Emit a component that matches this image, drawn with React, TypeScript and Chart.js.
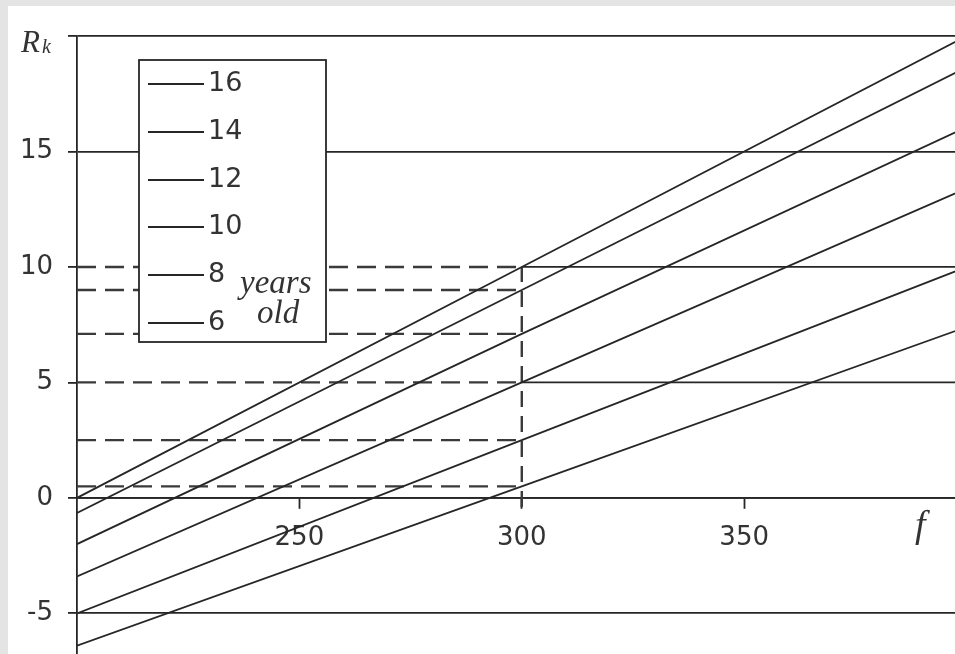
import React, { useEffect, useRef } from 'react';
import { Chart, registerables } from 'chart.js';

Chart.register(...registerables);

// ---- data ----
const ageLabels = ['16', '14', '12', '10', '8', '6'];
const fPoints = [200, 300, 400];
const rk16 = [0, 10, 20];
const rk14 = [-0.65, 9, 18.65];
const rk12 = [-2, 7.1, 16.05];
const rk10 = [-3.4, 5, 13.4];
const rk8 = [-5, 2.5, 10];
const rk6 = [-6.4, 0.5, 7.4];
const ageSeries = [rk16, rk14, rk12, rk10, rk8, rk6];

const readingF = 300;
const readingStartF = 200;
const readingEndF = 400;
const readings = [10, 9, 7.1, 5, 2.5, 0.5];
const readingDropBottom = -0.4;
const splitGridLevels = [10, 5];

const xTicks = [250, 300, 350];
const yTicks = [-5, 0, 5, 10, 15, 20];
const xMin = 200;
const xMax = 397.4;
const yMin = -6.76;
const yMax = 20;

const INK = '#262626';
const DASH = '#3a3a3a';
const TEXT = '#333333';

const overlayPlugin = {
  id: 'overlay',
  afterDraw(chart: any) {
    const ctx = chart.ctx as CanvasRenderingContext2D;
    const a = chart.chartArea;
    ctx.save();
    // legend box
    const bx = Math.round(a.left + 62);
    const by = Math.round(a.top + 24);
    const bw = 187;
    const bh = 282;
    ctx.fillStyle = '#ffffff';
    ctx.fillRect(bx, by, bw, bh);
    ctx.strokeStyle = INK;
    ctx.lineWidth = 1.8;
    ctx.strokeRect(bx, by, bw, bh);
    const ageSets = chart.data.datasets.filter((d: any) => d.isAge);
    ageSets.forEach((d: any, i: number) => {
      const ly = Math.round(by + 24 + i * 47.8);
      ctx.beginPath();
      ctx.moveTo(bx + 9, ly);
      ctx.lineTo(bx + 65, ly);
      ctx.strokeStyle = d.borderColor;
      ctx.lineWidth = 1.8;
      ctx.stroke();
      ctx.fillStyle = TEXT;
      ctx.font = '27px "DejaVu Sans"';
      ctx.textAlign = 'left';
      ctx.textBaseline = 'alphabetic';
      ctx.fillText(d.label, bx + 69, ly + 7);
    });
    ctx.font = 'italic 33px "Liberation Serif"';
    ctx.fillText('years', bx + 101, by + 233);
    ctx.fillText('old', bx + 118, by + 263);

    // axis titles
    ctx.font = 'italic 31px "Liberation Serif"';
    ctx.fillText('R', a.left - 56, a.top + 16);
    ctx.font = 'italic 20px "Liberation Serif"';
    ctx.fillText('k', a.left - 35, a.top + 17);
    const y0 = chart.scales.y.getPixelForValue(0);
    ctx.font = 'italic 38px "Liberation Serif"';
    ctx.fillText('f', a.left + 838, y0 + 39);
    ctx.restore();
  },
};

export default function App() {
  const ref = useRef<HTMLCanvasElement | null>(null);

  useEffect(() => {
    if (!ref.current) return;
    const datasets: any[] = [];
    ageSeries.forEach((vals, i) => {
      datasets.push({
        label: ageLabels[i],
        isAge: true,
        data: fPoints.map((f, j) => ({ x: f, y: vals[j] })),
        borderColor: INK,
        borderWidth: 1.8,
        pointRadius: 0,
        fill: false,
        tension: 0,
      });
    });
    readings.forEach((r) => {
      datasets.push({
        label: 'reading ' + r,
        data: [
          { x: readingStartF, y: r },
          { x: readingF, y: r },
        ],
        borderColor: DASH,
        borderWidth: 2.4,
        borderDash: [19, 9],
        pointRadius: 0,
        fill: false,
      });
    });
    datasets.push({
      label: 'reading drop',
      data: [
        { x: readingF, y: readingDropBottom },
        { x: readingF, y: Math.max(...readings) },
      ],
      borderColor: DASH,
      borderWidth: 2.4,
      borderDash: [16, 9],
      pointRadius: 0,
      fill: false,
    });
    splitGridLevels.forEach((lv) => {
      datasets.push({
        label: 'grid ' + lv,
        data: [
          { x: readingF, y: lv },
          { x: readingEndF, y: lv },
        ],
        borderColor: INK,
        borderWidth: 1.8,
        pointRadius: 0,
        fill: false,
      });
    });

    const chart = new Chart(ref.current, {
      type: 'line',
      data: { datasets },
      options: {
        animation: false,
        responsive: false,
        devicePixelRatio: 1,
        events: [],
        layout: { padding: { top: 30, left: 0, right: 0, bottom: 0 } },
        plugins: { legend: { display: false }, tooltip: { enabled: false } },
        scales: {
          x: {
            type: 'linear',
            min: xMin,
            max: xMax,
            position: { y: 0 } as any,
            afterBuildTicks: (s: any) => {
              s.ticks = xTicks.map((v) => ({ value: v }));
            },
            grid: {
              drawOnChartArea: false,
              drawTicks: true,
              tickLength: 10,
              tickColor: INK,
              tickWidth: 1.8,
            },
            border: { display: true, color: INK, width: 1.8 },
            ticks: {
              padding: 15,
              color: TEXT,
              font: { family: '"DejaVu Sans"', size: 26 },
              maxRotation: 0,
              callback: (v: any) => String(v),
            },
          },
          y: {
            type: 'linear',
            min: yMin,
            max: yMax,
            position: 'left',
            afterBuildTicks: (s: any) => {
              s.ticks = yTicks.map((v) => ({ value: v }));
            },
            afterFit: (s: any) => {
              s.width = 69;
              s.paddingTop = 0;
              s.paddingBottom = 0;
            },
            grid: {
              drawOnChartArea: true,
              drawTicks: true,
              tickLength: 9,
              tickColor: INK,
              tickWidth: 1.8,
              lineWidth: 1.8,
              color: (c: any) =>
                c.tick && splitGridLevels.includes(c.tick.value) ? 'rgba(0,0,0,0)' : INK,
            },
            border: { display: true, color: INK, width: 1.8 },
            ticks: {
              padding: 15,
              color: TEXT,
              font: { family: '"DejaVu Sans"', size: 26 },
              callback: (v: any) => (v === yMax ? '' : String(v)),
            },
          },
        },
      },
      plugins: [overlayPlugin],
    } as any);
    return () => chart.destroy();
  }, []);

  return (
    <div style={{ position: 'fixed', inset: 0, background: '#e4e4e4', overflow: 'hidden' }}>
      <div
        style={{ position: 'absolute', left: 8, top: 6, width: 947, height: 648, background: '#ffffff' }}
      >
        <canvas ref={ref} width={947} height={648} style={{ display: 'block' }} />
      </div>
    </div>
  );
}
